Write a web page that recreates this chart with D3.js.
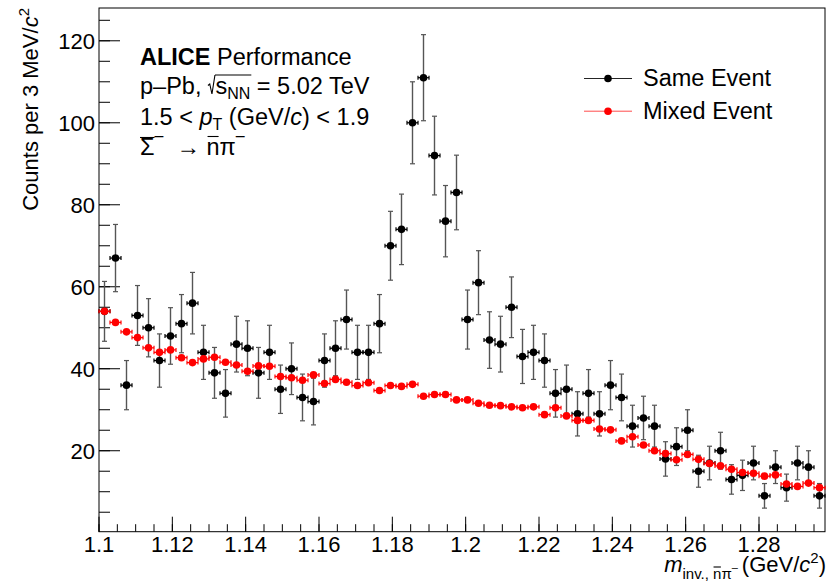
<!DOCTYPE html>
<html><head><meta charset="utf-8">
<script src="https://cdn.jsdelivr.net/npm/d3@7/dist/d3.min.js"></script>
<style>
html,body{margin:0;padding:0;background:#fff;}
svg text{font-family:"Liberation Sans",Arial,Helvetica,sans-serif;white-space:pre;fill:#000;}
</style></head>
<body>
<svg id="c" width="828" height="584"></svg>
<script>
// ---- data ----
const massCenters = [1.1015,1.1045,1.1075,1.1105,1.1135,1.1165,1.1195,1.1225,1.1255,1.1285,1.1315,1.1345,1.1375,1.1405,1.1435,1.1465,1.1495,1.1525,1.1555,1.1585,1.1615,1.1645,1.1675,1.1705,1.1735,1.1765,1.1795,1.1825,1.1855,1.1885,1.1915,1.1945,1.1975,1.2005,1.2035,1.2065,1.2095,1.2125,1.2155,1.2185,1.2215,1.2245,1.2275,1.2305,1.2335,1.2365,1.2395,1.2425,1.2455,1.2485,1.2515,1.2545,1.2575,1.2605,1.2635,1.2665,1.2695,1.2725,1.2755,1.2785,1.2815,1.2845,1.2875,1.2905,1.2935,1.2965];
const binHalfWidth = 0.0015;
const sameEvent = [54,67,36,53,50,42,48,51,56,44,39,34,46,45,39,44,35,40,33,32,42,45,52,44,44,51,70,74,100,111,92,76,83,52,61,47,46,55,43,44,42,34,35,29,34,29,36,33,26,28,26,18,21,25,15,17,20,13,14,17,9,16,11,17,16,9];
const sameEventErr = [7.3,8.2,6.0,7.3,7.1,6.5,6.9,7.1,7.5,6.6,6.2,5.8,6.8,6.7,6.2,6.6,5.9,6.3,5.7,5.7,6.5,6.7,7.2,6.6,6.6,7.1,8.4,8.6,10.0,10.5,9.6,8.7,9.1,7.2,7.8,6.9,6.8,7.4,6.6,6.6,6.5,5.8,5.9,5.4,5.8,5.4,6.0,5.7,5.1,5.3,5.1,4.2,4.6,5.0,3.9,4.1,4.5,3.6,3.7,4.1,3.0,4.0,3.3,4.1,4.0,3.0];
const mixedEvent = [54.0,51.3,49.0,47.6,45.1,44.0,44.6,42.7,41.5,42.4,42.8,41.6,40.9,39.4,40.7,40.6,38.1,37.8,37.2,38.5,36.4,37.4,36.7,35.9,36.6,34.7,35.9,35.7,36.2,33.3,33.7,33.7,32.4,32.4,31.6,31.1,31.0,30.7,30.5,30.7,28.8,30.5,28.5,27.4,27.4,25.3,25.1,22.4,23.4,21.4,20.0,19.3,17.8,19.1,17.9,16.9,16.3,15.5,14.7,14.5,13.8,14.1,11.9,11.3,12.1,11.0];
const xTickValues = [1.1,1.12,1.14,1.16,1.18,1.2,1.22,1.24,1.26,1.28];
const xTickLabels = ["1.1","1.12","1.14","1.16","1.18","1.2","1.22","1.24","1.26","1.28"];
const yTickValues = [20,40,60,80,100,120];
const yTickLabels = ["20","40","60","80","100","120"];
const legendLabels = ["Same Event","Mixed Event"];
const xDomain = [1.1, 1.298];
const yDomain = [0.25, 128];

// ---- layout ----
const L = 99, R = 825, T = 8, B = 531.7;
const svg = d3.select("#c");
const x = d3.scaleLinear().domain(xDomain).range([L, R]);
const y = d3.scaleLinear().domain(yDomain).range([B, T]);
const FS = 22;

// frame
svg.append("rect").attr("x", L).attr("y", T).attr("width", R - L).attr("height", B - T)
  .attr("fill", "none").attr("stroke", "#000").attr("stroke-width", 1);

// x axis ticks
const xMinor = d3.range(1.1, 1.2976, 0.005);
svg.append("g").selectAll("line").data(xMinor).join("line")
  .attr("x1", d => x(d)).attr("x2", d => x(d)).attr("y1", B).attr("y2", B - 7.5)
  .attr("stroke", "#000").attr("stroke-width", 1);
svg.append("g").selectAll("line").data(xTickValues).join("line")
  .attr("x1", d => x(d)).attr("x2", d => x(d)).attr("y1", B).attr("y2", B - 15)
  .attr("stroke", "#000").attr("stroke-width", 1);
svg.append("g").selectAll("text").data(xTickValues).join("text")
  .attr("x", d => x(d)).attr("y", 552).attr("text-anchor", "middle").attr("font-size", FS)
  .text((d, i) => xTickLabels[i]);

// y axis ticks
const yMinor = d3.range(5, 128, 5);
svg.append("g").selectAll("line").data(yMinor).join("line")
  .attr("x1", L).attr("x2", L + 11).attr("y1", d => y(d)).attr("y2", d => y(d))
  .attr("stroke", "#000").attr("stroke-width", 1);
svg.append("g").selectAll("line").data(yTickValues).join("line")
  .attr("x1", L).attr("x2", L + 21).attr("y1", d => y(d)).attr("y2", d => y(d))
  .attr("stroke", "#000").attr("stroke-width", 1);
svg.append("g").selectAll("text").data(yTickValues).join("text")
  .attr("x", 95).attr("y", d => y(d) + 7.8).attr("text-anchor", "end").attr("font-size", FS)
  .text((d, i) => yTickLabels[i]);

// ---- rich text layout helper ----
function layout(g, segs, x0, y0) {
  let cx = x0;
  segs.forEach(s => {
    if (s.gap !== undefined) { cx += s.gap; return; }
    if (s.radical) {
      const h = s.h;
      g.append("path").attr("d", `M${cx},${y0 - 7} L${cx + 1.8},${y0 - 8.5} L${cx + 4},${y0 + 0.5} L${cx + 7.5},${y0 - h}`)
        .attr("fill", "none").attr("stroke", "#000").attr("stroke-width", 1.1);
      s._x = cx + 7.5; cx += 7.5; return;
    }
    const t = g.append("text").attr("x", cx).attr("y", y0 + (s.dy || 0))
      .attr("font-size", s.size || FS)
      .attr("font-style", s.italic ? "italic" : null)
      .attr("font-weight", s.bold ? "bold" : null).text(s.t);
    const w = t.node().getComputedTextLength();
    if (s.over) {
      g.append("line").attr("x1", cx + (s.overPad || 0)).attr("x2", cx + w - (s.overPad || 0))
        .attr("y1", y0 + (s.dy || 0) - s.over).attr("y2", y0 + (s.dy || 0) - s.over)
        .attr("stroke", "#000").attr("stroke-width", 1.1);
    }
    cx += w;
  });
  return cx - x0;
}

// ---- info text ----
const TS = 23.5, SS = 16;
const info = svg.append("g");
layout(info, [{t: "ALICE", bold: true, size: TS}, {t: " Performance", size: TS}], 140, 65);
// line 2 with sqrt
(function () {
  const g = info.append("g");
  let cx = 140, y0 = 93.5;
  cx += layout(g, [{t: "p\u2013Pb, ", size: TS}], cx, y0);
  const rx = cx;
  g.append("path").attr("d", `M${cx},${y0 - 8} L${cx + 1.8},${y0 - 9.5} L${cx + 4},${y0 + 0.5} L${cx + 7},${y0 - 18.5}`)
    .attr("fill", "none").attr("stroke", "#000").attr("stroke-width", 1.1);
  cx += 7.5;
  const w = layout(g, [{t: "s", size: TS}, {t: "NN", size: SS, dy: 5}], cx, y0);
  g.append("line").attr("x1", rx + 7).attr("x2", cx + w + 1).attr("y1", y0 - 18.5).attr("y2", y0 - 18.5)
    .attr("stroke", "#000").attr("stroke-width", 1.1);
  cx += w;
  layout(g, [{t: " = 5.02 TeV", size: TS}], cx, y0);
})();
layout(info, [{t: "1.5 < ", size: TS}, {t: "p", italic: true, size: TS}, {t: "T", size: SS, dy: 5},
  {t: " (GeV/", size: TS}, {t: "c", italic: true, size: TS}, {t: ") < 1.9", size: TS}], 140, 124.5);
layout(info, [{t: "\u03A3", size: TS, over: 17.5}, {t: "\u2013", size: SS, dy: -14}, {t: "  \u2192 ", size: TS},
  {t: "n", size: TS, over: 18.5, overPad: 1}, {t: "\u03C0", size: TS}, {t: "\u2013", size: SS, dy: -14}], 140, 155);

// ---- axis titles ----
(function () {
  const g = svg.append("g");
  const w = layout(g, [{t: "m", italic: true, size: FS}, {t: "inv., ", size: 15, dy: 7},
    {t: "n", size: 15, dy: 7, over: 12, overPad: 0.5}, {t: "\u03C0", size: 15, dy: 7}, {t: "\u2013", size: 11, dy: -1},
    {gap: 4}, {t: "(GeV/", size: FS}, {t: "c", italic: true, size: FS}, {t: "2", size: 15, dy: -9}, {t: ")", size: FS}], 0, 572);
  g.attr("transform", `translate(${826 - w},0)`);
})();
(function () {
  const g = svg.append("g");
  const inner = g.append("g");
  const w = layout(inner, [{t: "Counts per 3 MeV/", size: FS}, {t: "c", italic: true, size: FS}, {t: "2", size: 15, dy: -9}], 0, 0);
  g.attr("transform", `translate(37.5,${8 + w}) rotate(-90)`);
})();

// ---- data marks ----
const ex = binHalfWidth;
// same event
const se = svg.append("g");
massCenters.forEach((m, i) => {
  const cx = x(m), cy = y(sameEvent[i]);
  const y1 = y(sameEvent[i] + sameEventErr[i]), y2 = y(sameEvent[i] - sameEventErr[i]);
  se.append("line").attr("x1", cx).attr("x2", cx).attr("y1", y1).attr("y2", y2).attr("stroke", "#555").attr("stroke-width", 1.4);
  se.append("line").attr("x1", cx - 2.5).attr("x2", cx + 2.5).attr("y1", y1).attr("y2", y1).attr("stroke", "#555").attr("stroke-width", 1.2);
  se.append("line").attr("x1", cx - 2.5).attr("x2", cx + 2.5).attr("y1", y2).attr("y2", y2).attr("stroke", "#555").attr("stroke-width", 1.2);
  const xl = x(m - ex), xr = x(m + ex);
  se.append("line").attr("x1", xl).attr("x2", xr).attr("y1", cy).attr("y2", cy).attr("stroke", "#000").attr("stroke-width", 1.2);
  se.append("line").attr("x1", xl).attr("x2", xl).attr("y1", cy - 2).attr("y2", cy + 2).attr("stroke", "#000").attr("stroke-width", 1.2);
  se.append("line").attr("x1", xr).attr("x2", xr).attr("y1", cy - 2).attr("y2", cy + 2).attr("stroke", "#000").attr("stroke-width", 1.2);
  se.append("circle").attr("cx", cx).attr("cy", cy).attr("r", 3.8).attr("fill", "#000");
});
// mixed event
const me = svg.append("g");
massCenters.forEach((m, i) => {
  const cx = x(m), cy = y(mixedEvent[i]);
  const xl = x(m - ex), xr = x(m + ex);
  me.append("line").attr("x1", xl).attr("x2", xr).attr("y1", cy).attr("y2", cy).attr("stroke", "#f00").attr("stroke-width", 1.2);
  me.append("line").attr("x1", xl).attr("x2", xl).attr("y1", cy - 2).attr("y2", cy + 2).attr("stroke", "#f00").attr("stroke-width", 1.2);
  me.append("line").attr("x1", xr).attr("x2", xr).attr("y1", cy - 2).attr("y2", cy + 2).attr("stroke", "#f00").attr("stroke-width", 1.2);
  me.append("circle").attr("cx", cx).attr("cy", cy).attr("r", 3.8).attr("fill", "#f00");
});

// ---- legend ----
const lg = svg.append("g");
const legendColors = ["#000", "#f00"];
const legendY = [78.5, 111.2];
legendLabels.forEach((lab, i) => {
  lg.append("line").attr("x1", 584).attr("x2", 632).attr("y1", legendY[i]).attr("y2", legendY[i])
    .attr("stroke", legendColors[i]).attr("stroke-width", 1).attr("opacity", i ? 0.7 : 0.85);
  lg.append("circle").attr("cx", 608).attr("cy", legendY[i]).attr("r", 3.8).attr("fill", legendColors[i]);
  lg.append("text").attr("x", 643).attr("y", legendY[i] + 7.3).attr("font-size", TS).text(lab);
});
</script>
</body></html>
